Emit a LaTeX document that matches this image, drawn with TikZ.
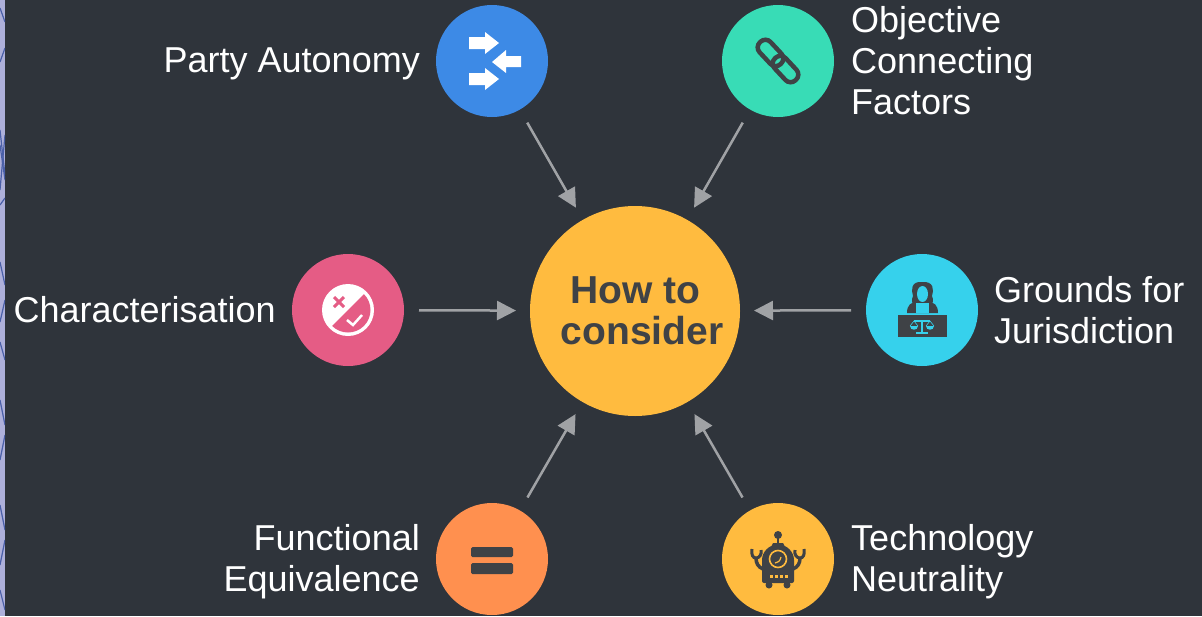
\documentclass[tikz,border=0pt]{standalone}
\usepackage{fontspec}
\setmainfont{Liberation Sans}
\usetikzlibrary{arrows.meta,positioning}
\definecolor{slate}{HTML}{2F343B}
\definecolor{inkdark}{HTML}{3F4246}
\definecolor{strip}{HTML}{AEB0DA}
\definecolor{stripline}{HTML}{4A5FA8}
\definecolor{arrowgray}{HTML}{A0A2A5}
\definecolor{hubyellow}{HTML}{FFBB3F}
\definecolor{partyblue}{HTML}{3D8AE6}
\definecolor{linkgreen}{HTML}{38DCB6}
\definecolor{charpink}{HTML}{E55C85}
\definecolor{judgecyan}{HTML}{36D1EC}
\definecolor{equivorange}{HTML}{FF904F}
\tikzset{
    topic/.style={circle,inner sep=0pt,minimum size=112pt,outer sep=15pt},
    caption/.style={text=white,font=\fontsize{36}{41}\selectfont,inner sep=0pt},
    towardhub/.style={-{Triangle[length=19pt,width=19pt]},line width=2.5pt,arrowgray},
}
\begin{document}
\begin{tikzpicture}[x=1pt,y=-1pt]
            \useasboundingbox (0,0) rectangle (1202,616);
            % Background
            \fill[slate] (0,0) rectangle (1202,616);
            \fill[strip] (0,0) rectangle (5,616);
            \begin{scope}
                \clip (0,0) rectangle (5,616);
                \foreach \ya/\yb in {8/22,62/48,130/175,190/135,145/180,205/198,262/285,322/300,342/360,400/425,460/435,505/530,565/540,590/610}
                    \draw[stripline,line width=1.2pt] (0,\ya) -- (5,\yb);
            \end{scope}
            % Topics and hub
            \node[circle,inner sep=0pt,minimum size=210pt,outer sep=14pt,fill=hubyellow,text=inkdark,
                font=\fontsize{39}{41}\selectfont\bfseries,align=center] (hub) at (635,311) {How to\\\hspace*{14pt}consider};
            \node[topic,fill=partyblue] (party) at (492,61) {};
            \node[topic,fill=linkgreen] (objective) at (778,61) {};
            \node[topic,fill=charpink] (character) at (348,310) {};
            \node[topic,fill=judgecyan] (grounds) at (922,310) {};
            \node[topic,fill=equivorange] (functional) at (492,559) {};
            \node[topic,fill=hubyellow] (technology) at (778,559) {};
            % Captions
            \node[caption,anchor=east] (partytext) at (420,64) {Party Autonomy};
            \node[caption,anchor=west,align=left] (objectivetext) at (851,61) {Objective\\Connecting\\Factors};
            \node[caption,anchor=east] (charactertext) at (276,310) {Characterisation};
            \node[caption,anchor=west,align=left] (groundstext) at (994,310) {Grounds for\\Jurisdiction};
            \node[caption,anchor=east,align=right] (functionaltext) at (420,562) {Functional\\Equivalence};
            \node[caption,anchor=west,align=left] (technologytext) at (851,562) {Technology\\Neutrality};
            % Arrows
            \draw[towardhub] (party) -- (hub);
            \draw[towardhub] (objective) -- (hub);
            \draw[towardhub] (character) -- (hub);
            \draw[towardhub] (grounds) -- (hub);
            \draw[towardhub] (functional) -- (hub);
            \draw[towardhub] (technology) -- (hub);
            % Icon: opposing arrows
            \foreach \ay in {43,79}
                \fill[white] (469,\ay-6) -- (485,\ay-6) -- (485,\ay-11) -- (499,\ay) -- (485,\ay+11) -- (485,\ay+6) -- (469,\ay+6) -- cycle;
            \fill[white] (521,56) -- (506,56) -- (506,50) -- (492,62) -- (506,73) -- (506,67) -- (521,67) -- cycle;
            % Icon: chain
            \begin{scope}[shift={(778,61)},rotate=-47,inkdark,line width=4.5pt]
                \draw[rounded corners=7pt] (-26,-7.5) rectangle (4,7.5);
                \draw[rounded corners=7pt] (-4,-7.5) rectangle (26,7.5);
            \end{scope}
            % Icon: half disc
            \fill[white] (348,310) circle (26);
            \begin{scope}
                \clip (320,338) -- (376,282) -- (376,338) -- cycle;
                \fill[charpink] (348,310) circle (22.5);
            \end{scope}
            \draw[charpink,line width=3pt] (334,297) -- (344,307) (344,297) -- (334,307);
            \draw[white,line width=2.5pt] (347,320) -- (353,325) -- (362,315);
            % Icon: judge
            \fill[inkdark] (922,282) .. controls (911,281) and (911,290) .. (913,296) .. controls (911,300) and (912,305) .. (915,305)
                -- (929,305) .. controls (933,305) and (934,300) .. (932,296) .. controls (934,290) and (934,281) .. (922,282) -- cycle;
            \fill[judgecyan] (922.5,294) ellipse (5.5 and 8);
            \fill[inkdark] (907,313) .. controls (907,305) and (911,302) .. (917,302) -- (928,302) .. controls (934,302) and (938,305) .. (938,313) -- cycle;
            \fill[judgecyan] (916,303) rectangle (928.5,313);
            \fill[inkdark] (898,315) rectangle (947,337);
            \draw[judgecyan,line width=1.2pt] (922,320) -- (922,333) (916,333) -- (928,333) (914,321) -- (930,321);
            \fill[judgecyan] (910,326) -- (918,326) .. controls (918,331) and (910,331) .. (910,326) -- cycle;
            \fill[judgecyan] (926,326) -- (934,326) .. controls (934,331) and (926,331) .. (926,326) -- cycle;
            \draw[judgecyan,line width=0.6pt] (910,326) -- (914,321) -- (918,326) (926,326) -- (930,321) -- (934,326);
            % Icon: equals
            \fill[inkdark,rounded corners=1.5pt] (471,547) rectangle (513,557);
            \fill[inkdark,rounded corners=1.5pt] (471,563) rectangle (513,574);
            % Icon: robot
            \fill[inkdark] (778,535) circle (4);
            \draw[inkdark,line width=2pt] (778,535) -- (778,546);
            \fill[inkdark] (770,549) -- (786,549) -- (783,543) -- (773,543) -- cycle;
            \fill[inkdark,rounded corners=2pt] (762,583) -- (762,562) .. controls (762,552) and (769,545) .. (778,545) .. controls (787,545) and (794,552) .. (794,562) -- (794,583) -- cycle;
            \fill[inkdark] (769,585) circle (3.5);
            \fill[inkdark] (787,585) circle (3.5);
            \draw[hubyellow,line width=1.6pt] (778,559) circle (8.5);
            \draw[hubyellow,line width=1.2pt] (775,563) .. controls (778,563) and (780,561) .. (781,557);
            \foreach \dotx in {771,776,781,786}
                \fill[hubyellow] (\dotx-1.5,574.5) rectangle (\dotx+1.5,577.5);
            \draw[inkdark,line width=3.5pt] (763,569) .. controls (758,567) and (756,563) .. (756,558);
            \draw[inkdark,line width=3pt] (752,549) .. controls (751,555) and (753,558) .. (756,558) .. controls (759,558) and (762,555) .. (761,550);
            \draw[inkdark,line width=3.5pt] (793,569) .. controls (798,567) and (800,563) .. (800,558);
            \draw[inkdark,line width=3pt] (804,549) .. controls (805,555) and (803,558) .. (800,558) .. controls (797,558) and (794,555) .. (795,550);
           \end{tikzpicture}
\end{document}
